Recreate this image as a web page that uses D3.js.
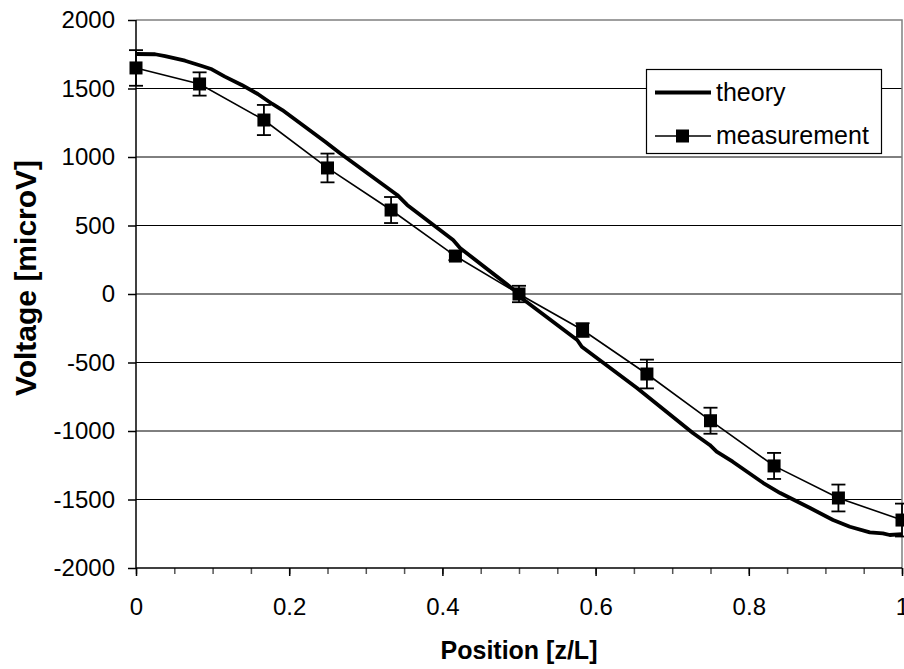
<!DOCTYPE html>
<html>
<head>
<meta charset="utf-8">
<script src="https://cdn.jsdelivr.net/npm/d3@7"></script>
<style>
  body { margin: 0; background: #fff; }
  svg { display: block; font-family: "Liberation Sans", Arial, sans-serif; }
</style>
</head>
<body>
<script>
// values
var theoryPos = [0, 0.025, 0.038, 0.064, 0.086, 0.099, 0.116, 0.138, 0.159, 0.178, 0.191, 0.221, 0.247, 0.266,
    0.341, 0.354, 0.414, 0.423, 0.497, 0.501, 0.576, 0.582, 0.654, 0.727, 0.749, 0.758, 0.779, 0.819, 0.841,
    0.880, 0.910, 0.932, 0.958, 0.975, 0.984, 1];
var theoryVal = [1752, 1750, 1737, 1703, 1664, 1640, 1587, 1526, 1460, 1387, 1343, 1219, 1112, 1029,
    723, 650, 394, 336, 15, -20, -336, -385, -686, -1015, -1102, -1151, -1224, -1380, -1453,
    -1562, -1650, -1699, -1740, -1747, -1759, -1752];
var measPos = [0, 0.083, 0.167, 0.25, 0.333, 0.417, 0.5, 0.583, 0.667, 0.75, 0.833, 0.917, 1];
var measVal = [1650, 1533, 1270, 920, 613, 277, 0, -263, -584, -925, -1255, -1489, -1650];
var measErr = [130, 85, 110, 105, 95, 30, 60, 50, 105, 95, 95, 98, 120];
var yTicks = [-2000, -1500, -1000, -500, 0, 500, 1000, 1500, 2000];
var xTicks = [0, 0.2, 0.4, 0.6, 0.8, 1];
var xMinor = d3.range(0, 1.0001, 0.05);
var seriesNames = ["theory", "measurement"];

var width = 904, height = 669;
// plot area (note: "top" is reserved on window, so use a prefix)
var pLeft = 136, pRight = 902, pTop = 20, pBottom = 568;

var svg = d3.select("body").append("svg")
    .attr("width", width)
    .attr("height", height);

var x = d3.scaleLinear().domain([0, 1]).range([pLeft, pRight]);
var y = d3.scaleLinear().domain([-2000, 2000]).range([pBottom, pTop]);

// gridlines
svg.append("g")
    .selectAll("line")
    .data(yTicks.filter(function (d) { return d > -2000 && d < 2000; }))
    .enter().append("line")
    .attr("x1", pLeft).attr("x2", pRight)
    .attr("y1", function (d) { return y(d); })
    .attr("y2", function (d) { return y(d); })
    .attr("stroke", "#000")
    .attr("stroke-width", 1);

// plot border top / right (grey)
svg.append("path")
    .attr("d", "M" + pLeft + "," + y(2000) + "H" + x(1) + "V" + y(-2000))
    .attr("fill", "none")
    .attr("stroke", "#808080")
    .attr("stroke-width", 1.5);

// x axis minor ticks
svg.append("g")
    .attr("transform", "translate(0," + pBottom + ")")
    .call(d3.axisBottom(x).tickValues(xMinor).tickSize(6).tickFormat(""))
    .call(function (g) {
        g.select(".domain").remove();
        g.selectAll("line").attr("stroke", "#555").attr("stroke-width", 1.5);
    });

// x axis
var xAxis = svg.append("g")
    .attr("transform", "translate(0," + pBottom + ")")
    .call(d3.axisBottom(x).tickValues(xTicks).tickSize(8).tickPadding(22)
        .tickFormat(function (d) { return String(d); }));
xAxis.select(".domain").attr("stroke", "#000").attr("stroke-width", 1.5)
    .attr("d", "M" + pLeft + ",0H" + pRight);
xAxis.selectAll("line").attr("stroke", "#000").attr("stroke-width", 1.5);
xAxis.selectAll("text").attr("font-size", 24).attr("font-family", "Liberation Sans, Arial").attr("fill", "#000");

// y axis (plain hyphen for negatives, like the original)
var yAxis = svg.append("g")
    .attr("transform", "translate(" + pLeft + ",0)")
    .call(d3.axisLeft(y).tickValues(yTicks).tickSize(8).tickPadding(13)
        .tickFormat(function (d) { return String(d); }));
yAxis.select(".domain").attr("stroke", "#000").attr("stroke-width", 1.5)
    .attr("d", "M0," + pTop + "V" + pBottom);
yAxis.selectAll("line").attr("stroke", "#000").attr("stroke-width", 1.5);
yAxis.selectAll("text").attr("font-size", 24).attr("font-family", "Liberation Sans, Arial").attr("fill", "#000");

// theory line
var theory = theoryPos.map(function (p, i) { return [p, theoryVal[i]]; });
svg.append("path")
    .datum(theory)
    .attr("d", d3.line().x(function (d) { return x(d[0]); }).y(function (d) { return y(d[1]); }))
    .attr("fill", "none")
    .attr("stroke", "#000")
    .attr("stroke-width", 3.8)
    .attr("stroke-linejoin", "round");

// measurement line
var meas = measPos.map(function (p, i) { return { p: p, v: measVal[i], e: measErr[i] }; });
svg.append("path")
    .datum(meas)
    .attr("d", d3.line().x(function (d) { return x(d.p); }).y(function (d) { return y(d.v); }))
    .attr("fill", "none")
    .attr("stroke", "#000")
    .attr("stroke-width", 1.6);

// error bars
var eb = svg.append("g").selectAll("g")
    .data(meas)
    .enter().append("g")
    .attr("stroke", "#000")
    .attr("stroke-width", 1.8);
eb.append("line")
    .attr("x1", function (d) { return x(d.p); }).attr("x2", function (d) { return x(d.p); })
    .attr("y1", function (d) { return y(d.v + d.e); }).attr("y2", function (d) { return y(d.v - d.e); });
eb.append("line")
    .attr("x1", function (d) { return x(d.p) - 7; }).attr("x2", function (d) { return x(d.p) + 7; })
    .attr("y1", function (d) { return y(d.v + d.e); }).attr("y2", function (d) { return y(d.v + d.e); });
eb.append("line")
    .attr("x1", function (d) { return x(d.p) - 7; }).attr("x2", function (d) { return x(d.p) + 7; })
    .attr("y1", function (d) { return y(d.v - d.e); }).attr("y2", function (d) { return y(d.v - d.e); });

// markers
svg.append("g").selectAll("rect")
    .data(meas)
    .enter().append("rect")
    .attr("x", function (d) { return x(d.p) - 6.5; })
    .attr("y", function (d) { return y(d.v) - 6.5; })
    .attr("width", 13).attr("height", 13)
    .attr("fill", "#000");

// axis titles
svg.append("text")
    .attr("x", (pLeft + pRight) / 2)
    .attr("y", 659)
    .attr("text-anchor", "middle")
    .attr("font-size", 25)
    .attr("font-weight", "bold")
    .text("Position [z/L]");

svg.append("text")
    .attr("transform", "translate(36,278) rotate(-90)")
    .attr("text-anchor", "middle")
    .attr("font-size", 30)
    .attr("font-weight", "bold")
    .text("Voltage [microV]");

// legend
var legend = svg.append("g");
legend.append("rect")
    .attr("x", 646.5).attr("y", 69.5)
    .attr("width", 235).attr("height", 84)
    .attr("fill", "#fff")
    .attr("stroke", "#000")
    .attr("stroke-width", 1.2);
var rows = legend.selectAll("g.row")
    .data(seriesNames)
    .enter().append("g")
    .attr("class", "row")
    .attr("transform", function (d, i) { return "translate(0," + (i === 0 ? 92.5 : 136) + ")"; });
rows.append("line")
    .attr("x1", 655).attr("x2", 711)
    .attr("stroke", "#000")
    .attr("stroke-width", function (d, i) { return i === 0 ? 3.8 : 1.6; });
rows.filter(function (d, i) { return i === 1; })
    .append("rect")
    .attr("x", 676).attr("y", -6.5)
    .attr("width", 13).attr("height", 13)
    .attr("fill", "#000");
rows.append("text")
    .attr("x", 716)
    .attr("y", 0)
    .attr("dy", "0.33em")
    .attr("font-size", 25)
    .text(function (d) { return d; });
</script>
</body>
</html>
